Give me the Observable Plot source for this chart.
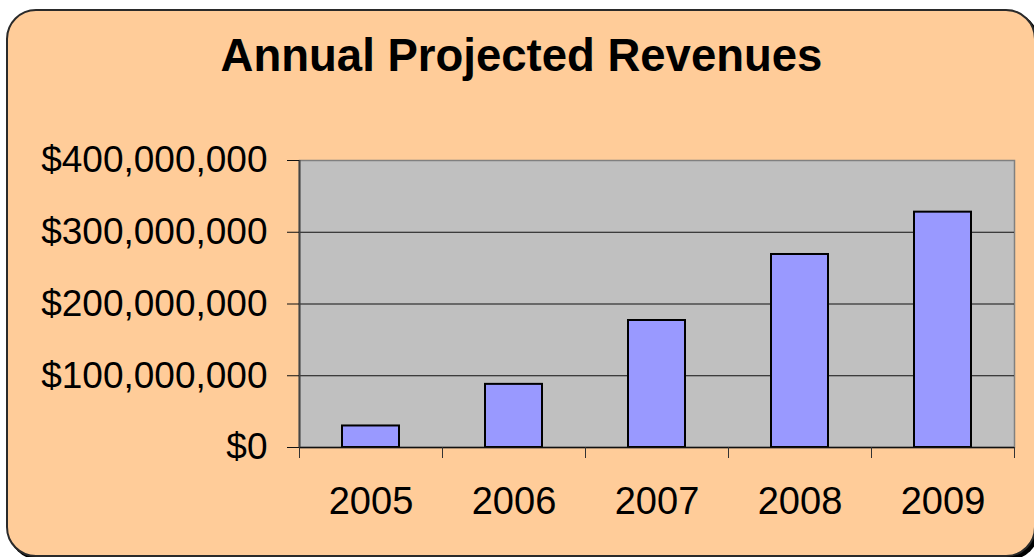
<!DOCTYPE html>
<html>
<head>
<meta charset="utf-8">
<script src="https://cdn.jsdelivr.net/npm/d3@7"></script>
<script src="https://cdn.jsdelivr.net/npm/@observablehq/plot@0.6"></script>
<style>
  html, body { margin: 0; padding: 0; background: #ffffff; width: 1034px; height: 557px; overflow: hidden; }
  #box {
    position: absolute; left: 6px; top: 9px; width: 1026px; height: 544px;
    background: #FFCC99; border: 2px solid #2a2a2a; border-radius: 30px;
    box-shadow: 3px 3px 0 #000;
  }
  #title {
    position: absolute; left: 0; top: 30px; width: 1043px; text-align: center;
    font-family: "Liberation Sans", Arial, sans-serif; font-weight: bold; font-size: 45.5px;
    color: #000; line-height: 52px;
  }
  #chart { position: absolute; left: 0; top: 0; }
</style>
</head>
<body>
<div id="box"></div>
<div id="title">Annual Projected Revenues</div>
<div id="chart"></div>
<script>
const years = [2005, 2006, 2007, 2008, 2009];
const revenues = [30000000, 88000000, 177000000, 269000000, 328000000];
const yTicks = [0, 100000000, 200000000, 300000000, 400000000];
const gridTicks = [100000000, 200000000, 300000000];
const yearBounds = [2004.5, 2005.5, 2006.5, 2007.5, 2008.5, 2009.5];

const data = years.map((y, i) => ({year: y, value: revenues[i]}));
const font = "'Liberation Sans', Arial, sans-serif";

const chart = Plot.plot({
  width: 1034,
  height: 557,
  marginLeft: 299,
  marginRight: 20,
  marginTop: 160,
  marginBottom: 110,
  style: {background: "transparent", fontFamily: font, color: "#000", overflow: "visible"},
  x: {domain: [yearBounds[0], yearBounds[yearBounds.length - 1]], axis: null, label: null},
  y: {domain: [0, 400000000], axis: null, label: null},
  marks: [
    Plot.frame({fill: "#C0C0C0", stroke: "#808080", strokeWidth: 1.5}),
    Plot.ruleY(gridTicks, {stroke: "#111", strokeWidth: 1}),
    Plot.rectY(data, {
      x1: d => d.year - 0.5, x2: d => d.year + 0.5, y: "value",
      insetLeft: 43, insetRight: 43,
      fill: "#9999FF", stroke: "#000", strokeWidth: 2
    }),
    Plot.ruleY([0], {stroke: "#111", strokeWidth: 1.5}),
    Plot.ruleX([yearBounds[0]], {stroke: "#444", strokeWidth: 2}),
    Plot.axisY({
      ticks: yTicks, tickSize: 12, tickPadding: 20, stroke: "#111", label: null,
      tickFormat: d3.format("$,"), fontSize: 37, fontFamily: font, fill: "#000"
    }),
    Plot.axisX({
      ticks: yearBounds, tickSize: 11, tickPadding: 0, stroke: "#333", label: null,
      tickFormat: () => ""
    }),
    Plot.axisX({
      ticks: years, tickSize: 0, tickPadding: 40, label: null,
      tickFormat: d => String(d), fontSize: 38, fontFamily: font, fill: "#000"
    })
  ]
});
document.getElementById("chart").appendChild(chart);
</script>
</body>
</html>
